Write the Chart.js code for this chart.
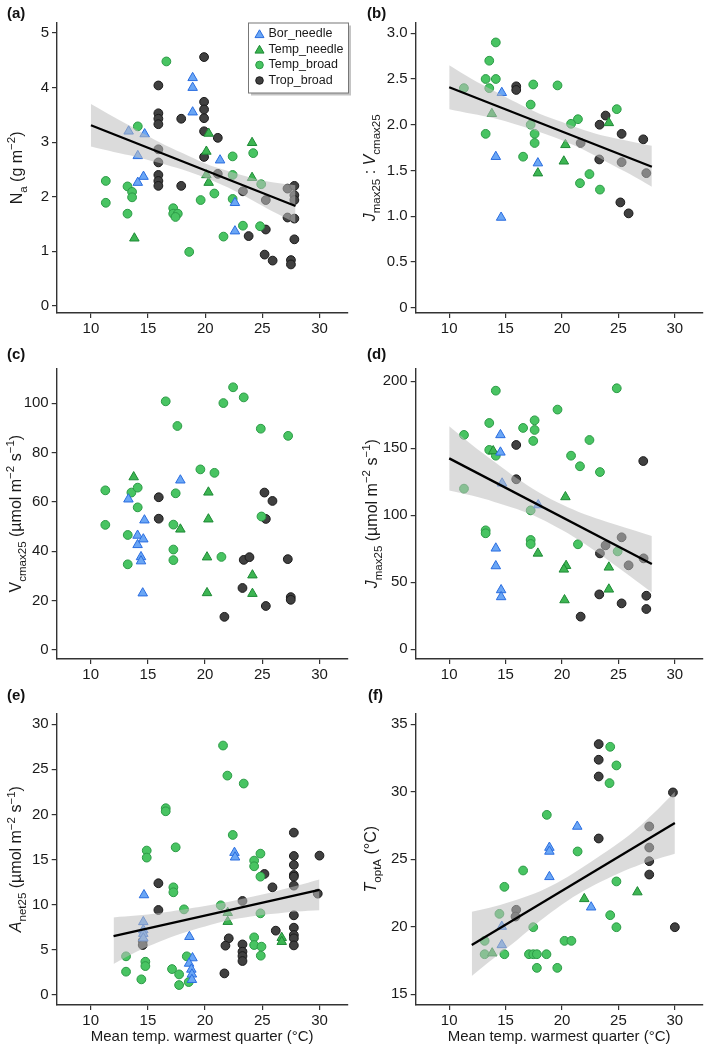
<!DOCTYPE html>
<html><head><meta charset="utf-8">
<script src="https://cdn.jsdelivr.net/npm/chart.js@4.4.0/dist/chart.umd.min.js"></script>
<style>
html,body{margin:0;padding:0;background:#fff;width:709px;height:1051px;overflow:hidden}
canvas{position:absolute}
</style></head><body>
<canvas id="pa" width="354" height="340" style="left:0px;top:0px"></canvas>
<canvas id="pb" width="355" height="340" style="left:354px;top:0px"></canvas>
<canvas id="pc" width="354" height="340" style="left:0px;top:340px"></canvas>
<canvas id="pd" width="355" height="340" style="left:354px;top:340px"></canvas>
<canvas id="pe" width="354" height="371" style="left:0px;top:680px"></canvas>
<canvas id="pf" width="355" height="371" style="left:354px;top:680px"></canvas>
<script>
// ---------------- DATA ----------------
const groupNames = ['Bor_needle', 'Temp_needle', 'Temp_broad', 'Trop_broad'];
const xTicks = [10, 15, 20, 25, 30];
const xTitle = 'Mean temp. warmest quarter (°C)';

// (a) Na
const na_bor = [[13.3,3.2],[14.7,3.15],[14.1,2.75],[14.6,2.37],[14.1,2.26],[18.9,4.18],[18.9,4.0],[18.9,3.55],[21.3,2.67],[22.6,1.89],[22.6,1.37]];
const na_tneedle = [[13.8,1.24],[20.3,3.16],[20.1,2.83],[20.1,2.4],[20.3,2.26],[24.1,2.99],[24.1,2.35]];
const na_tbroad = [[16.6,4.48],[14.1,3.29],[11.3,2.29],[11.3,1.89],[13.2,2.19],[13.6,2.09],[13.6,1.99],[13.2,1.69],[17.2,1.79],[17.2,1.69],[17.6,1.69],[17.4,1.63],[18.6,0.99],[19.6,1.94],[20.8,2.06],[21.6,1.27],[22.4,2.74],[22.4,2.4],[22.4,1.96],[23.3,1.47],[24.2,2.8],[24.8,1.46],[24.9,2.23]];
const na_trop = [[19.9,4.56],[15.9,4.04],[15.9,3.53],[15.9,3.43],[15.9,3.33],[15.9,2.87],[15.9,2.63],[15.9,2.4],[15.9,2.29],[15.9,2.2],[17.9,3.43],[17.9,2.2],[19.9,3.74],[19.9,3.6],[19.9,3.44],[19.9,3.2],[19.9,2.73],[21.1,3.08],[21.1,2.42],[23.3,2.1],[23.8,1.28],[25.3,1.94],[25.3,1.4],[25.2,0.94],[25.9,0.83],[27.2,2.15],[27.2,1.62],[27.8,2.2],[27.8,2.03],[27.8,1.94],[27.8,1.6],[27.8,1.22],[27.5,0.84],[27.5,0.76]];
const na_fit = [[10,3.31],[27.9,1.83]];
const na_bandX = [10,12,14,16,18,20,22,24,26,27.9];
const na_upper = [3.70,3.46,3.23,3.00,2.80,2.61,2.47,2.35,2.26,2.21];
const na_lower = [2.92,2.82,2.73,2.62,2.50,2.35,2.17,1.95,1.72,1.52];
const na_yTicks = [0,1,2,3,4,5];
const na_yLabels = ['0','1','2','3','4','5'];

// (b) Jmax25 : Vcmax25
const jv_bor = [[14.66,2.35],[14.13,1.65],[14.6,0.985],[17.86,1.58]];
const jv_tneedle = [[13.78,2.12],[17.86,1.47],[20.3,1.78],[20.16,1.6],[24.15,2.02]];
const jv_tbroad = [[11.3,2.40],[13.23,2.50],[13.55,2.70],[14.13,2.90],[14.13,2.50],[13.55,2.40],[13.23,1.90],[17.45,2.44],[17.22,2.22],[17.22,2.0],[17.57,1.90],[17.57,1.80],[16.55,1.65],[19.6,2.43],[21.41,2.06],[20.8,2.01],[21.59,1.36],[22.43,1.46],[23.36,1.29],[24.85,2.17]];
const jv_trop = [[15.94,2.42],[15.94,2.38],[21.65,1.80],[23.3,1.62],[23.33,2.0],[23.86,2.10],[25.28,1.90],[25.17,1.15],[25.9,1.03],[27.2,1.84],[25.28,1.59],[27.47,1.47]];
const jv_fit = [[10,2.41],[27.96,1.54]];
const jv_bandX = [10,12,14,16,18,20,22,24,26,27.96];
const jv_upper = [2.65,2.50,2.37,2.24,2.12,2.03,1.94,1.87,1.82,1.77];
const jv_lower = [2.17,2.12,2.07,2.00,1.92,1.83,1.72,1.59,1.46,1.32];
const jv_yTicks = [0,0.5,1,1.5,2,2.5,3];
const jv_yLabels = ['0','0.5','1.0','1.5','2.0','2.5','3.0'];

// (c) Vcmax25
const vc_bor = [[13.3,61.1],[14.1,46.4],[14.1,42.6],[14.6,44.9],[14.7,52.6],[14.4,37.7],[14.4,36.0],[14.55,23.0],[17.84,68.8]];
const vc_tneedle = [[13.76,70.1],[17.84,48.9],[20.29,63.9],[20.29,53.0],[20.17,37.6],[20.17,23.1],[24.14,30.3],[24.14,22.8]];
const vc_tbroad = [[11.28,64.7],[11.28,50.7],[13.24,46.6],[13.24,34.7],[13.56,63.8],[14.11,65.8],[14.11,57.8],[16.56,100.8],[17.58,90.8],[17.43,63.5],[17.23,50.8],[17.23,40.7],[17.23,36.4],[19.59,73.2],[20.82,71.8],[21.6,100.1],[22.45,106.5],[23.38,102.4],[21.43,37.7],[24.87,89.7],[24.93,54.1],[27.26,86.8]];
const vc_trop = [[15.95,61.9],[15.95,53.2],[21.69,13.4],[23.27,25.1],[23.38,36.5],[23.88,37.6],[25.19,63.8],[25.31,53.1],[25.31,17.8],[25.89,60.4],[27.23,36.8],[27.49,21.4],[27.49,20.3]];
const vc_yTicks = [0,20,40,60,80,100];
const vc_yLabels = ['0','20','40','60','80','100'];

// (d) Jmax25
const jm_bor = [[14.54,160],[14.54,147],[14.69,123.9],[14.13,75.4],[14.13,62.2],[14.6,44.3],[14.6,39.1],[17.89,107.7]];
const jm_tneedle = [[13.9,148],[17.86,71.6],[20.3,113.7],[20.36,62.4],[20.16,59.7],[20.22,36.8],[24.15,61.2],[24.15,44.8]];
const jm_tbroad = [[14.13,193],[11.31,160],[11.31,119.9],[13.55,168.9],[13.55,148.8],[14.13,144.5],[13.23,88.8],[13.23,86.6],[16.55,165.2],[17.57,170.9],[17.57,163.7],[17.45,155.5],[17.22,103.7],[17.22,81.6],[17.22,78.6],[19.6,178.9],[20.8,144.5],[21.59,136.6],[21.41,78.4],[22.43,156.2],[23.36,132.3],[24.85,194.8],[24.93,73.1]];
const jm_trop = [[15.94,152.5],[15.94,126.9],[21.65,24.4],[23.3,41.0],[23.36,71.6],[23.86,77.6],[25.28,83.6],[25.28,34.3],[25.9,62.7],[27.2,140.5],[27.23,67.9],[27.47,40.0],[27.47,30.1]];
const jm_fit = [[10,142.5],[27.96,63.7]];
const jm_bandX = [10,12,14,16,18,20,22,24,26,27.96];
const jm_upper = [166.5,152.7,140,127.7,116.9,108.1,100.8,95.1,89.8,84.5];
const jm_lower = [118.5,114.7,110,104.7,97.9,89.1,78.8,67.1,54.8,42.5];
const jm_yTicks = [0,50,100,150,200];
const jm_yLabels = ['0','50','100','150','200'];

// (e) Anet25
const an_bor = [[14.66,11.08],[14.6,8.1],[14.6,7.2],[14.6,6.8],[14.6,6.3],[18.63,6.46],[18.9,4.1],[18.6,3.5],[18.8,2.84],[18.85,2.3],[18.85,1.7],[22.57,15.77],[22.62,15.26]];
const an_tneedle = [[21.98,9.12],[21.98,8.13],[26.7,6.35],[26.7,5.91]];
const an_tbroad = [[21.57,27.63],[21.95,24.3],[23.38,23.42],[16.56,20.69],[16.56,20.35],[17.43,16.36],[14.9,16.0],[14.9,15.22],[17.23,11.93],[17.23,11.38],[18.16,9.49],[22.42,17.73],[24.29,14.89],[24.29,14.26],[24.84,15.66],[24.84,13.11],[21.37,9.94],[24.84,9.05],[24.29,6.39],[24.29,5.54],[24.93,5.36],[24.87,4.36],[13.09,4.29],[13.09,2.59],[14.43,1.74],[14.78,3.69],[14.78,3.21],[17.11,2.88],[17.73,2.29],[17.73,1.11],[18.4,4.29],[18.57,1.44]];
const an_trop = [[15.92,12.38],[15.92,9.42],[14.55,5.98],[14.55,5.54],[21.69,2.4],[22.07,6.28],[21.78,5.47],[23.27,10.42],[23.27,5.61],[23.27,4.80],[23.27,4.32],[23.27,3.77],[25.19,13.41],[25.89,11.93],[26.18,7.13],[27.76,17.99],[27.76,15.4],[27.76,14.41],[27.76,13.3],[27.76,13.11],[27.76,12.12],[27.76,8.83],[27.76,7.46],[27.76,6.65],[27.76,6.28],[27.76,5.5],[30.0,15.44],[29.85,11.23]];
const an_fit = [[12,6.54],[30,11.64]];
const an_bandX = [12,14,16,18,20,22,24,26,28,30];
const an_upper = [8.6,8.8,9.1,9.45,9.85,10.3,10.85,11.45,12.1,12.8];
const an_lower = [3.45,4.8,5.9,6.85,7.6,8.25,8.7,9.0,9.25,9.4];
const an_yTicks = [0,5,10,15,20,25,30];
const an_yLabels = ['0','5','10','15','20','25','30'];

// (f) ToptA
const to_bor = [[14.66,20.01],[14.66,18.65],[18.88,25.86],[18.88,25.57],[18.88,23.69],[21.35,27.42],[22.58,21.44]];
const to_tneedle = [[13.81,18.04],[21.97,22.06],[26.68,22.56]];
const to_tbroad = [[13.14,18.95],[13.14,17.96],[14.45,20.95],[14.89,22.95],[14.89,17.96],[16.55,24.16],[17.45,19.96],[17.07,17.96],[17.45,17.96],[17.77,17.96],[17.77,16.95],[18.62,17.96],[18.65,28.28],[19.58,16.95],[20.22,18.95],[20.83,18.95],[21.38,25.57],[24.27,33.32],[24.82,31.94],[24.21,30.63],[24.82,23.35],[24.27,20.85],[24.82,19.96]];
const to_trop = [[15.94,21.25],[15.88,20.75],[23.25,33.52],[23.25,32.36],[23.25,31.12],[23.25,26.53],[27.73,27.42],[27.73,25.86],[27.73,24.85],[27.73,23.86],[29.83,29.94],[30.0,19.96]];
const to_fit = [[12,18.65],[30,27.67]];
const to_bandX = [12,14,16,18,20,22,24,26,28,30];
const to_upper = [21.1,21.5,22.0,22.6,23.45,24.5,25.6,26.8,28.3,30.0];
const to_lower = [16.35,17.7,19.0,20.4,21.65,22.7,23.55,24.3,24.9,25.4];
const to_yTicks = [15,20,25,30,35];
const to_yLabels = ['15','20','25','30','35'];

// ---------------- STYLE ----------------
const FAM = '"Liberation Sans", Arial, Helvetica, sans-serif';
const STY = [
  {pointStyle:'triangle', radius:5.5, bg:'#6aa6f5', border:'#2a6de0'},
  {pointStyle:'triangle', radius:5.5, bg:'#3db552', border:'#1d8a35'},
  {pointStyle:'circle', radius:4.4, bg:'#48c462', border:'#2c9a46'},
  {pointStyle:'circle', radius:4.4, bg:'#404040', border:'#1a1a1a'}
];
const BAND = 'rgba(190,190,190,0.55)';

function toXY(arr){ return arr.map(p => ({x:p[0], y:p[1]})); }
function zipXY(xs, ys){ return xs.map((x,i) => ({x:x, y:ys[i]})); }

function drawRich(ctx, segs, cx, cy, size){
  ctx.save();
  ctx.translate(cx, cy); ctx.rotate(-Math.PI/2);
  const fontOf = s => (s.i ? 'italic ' : '') + ((s.sub||s.sup) ? size*0.72 : size) + 'px ' + FAM;
  let total = 0;
  segs.forEach(s => { ctx.font = fontOf(s); s.w = ctx.measureText(s.t).width; total += s.w; });
  let x = -total/2;
  ctx.textAlign = 'left'; ctx.textBaseline = 'alphabetic'; ctx.fillStyle = '#1a1a1a';
  const base = size*0.36;
  segs.forEach(s => {
    ctx.font = fontOf(s);
    const dy = s.sub ? size*0.3 : (s.sup ? -size*0.42 : 0);
    ctx.fillText(s.t, x, base + dy);
    x += s.w;
  });
  ctx.restore();
}

function drawMarker(ctx, st, x, y, r){
  ctx.save();
  ctx.fillStyle = st.bg; ctx.strokeStyle = st.border; ctx.lineWidth = 1;
  ctx.beginPath();
  if (st.pointStyle === 'triangle'){
    let a = 0;
    ctx.moveTo(x + Math.sin(a)*r, y - Math.cos(a)*r);
    a += 2*Math.PI/3; ctx.lineTo(x + Math.sin(a)*r, y - Math.cos(a)*r);
    a += 2*Math.PI/3; ctx.lineTo(x + Math.sin(a)*r, y - Math.cos(a)*r);
    ctx.closePath();
  } else {
    ctx.arc(x, y, r, 0, Math.PI*2);
  }
  ctx.fill(); ctx.stroke();
  ctx.restore();
}

const decor = {
  id: 'decor',
  afterDraw(chart, args, o){
    const ctx = chart.ctx, ca = chart.chartArea;
    ctx.save();
    ctx.font = 'bold 15px ' + FAM; ctx.fillStyle = '#111';
    ctx.textAlign = 'left'; ctx.textBaseline = 'middle';
    ctx.fillText(o.label, o.labelX, o.labelY);
    ctx.restore();
    drawRich(ctx, o.yTitle, o.titleX, (ca.top + ca.bottom)/2 + (o.titleDy||0), 16);
    if (o.legend){
      const bx = 248.5, by = 23, bw = 100, bh = 70;
      ctx.save();
      ctx.fillStyle = '#c4c4c4';
      ctx.fillRect(bx + 2.5, by + 2.5, bw, bh);
      ctx.fillStyle = '#fff'; ctx.fillRect(bx, by, bw, bh);
      ctx.strokeStyle = '#777'; ctx.lineWidth = 1; ctx.strokeRect(bx, by, bw, bh);
      const rows = [34, 49.5, 65, 80.5];
      ctx.font = '12.5px ' + FAM; ctx.fillStyle = '#1a1a1a'; ctx.textAlign = 'left'; ctx.textBaseline = 'middle';
      groupNames.forEach((n, i) => {
        const st = STY[i];
        drawMarker(ctx, st, 259.5, rows[i] + (st.pointStyle === 'triangle' ? 1 : 0), st.pointStyle === 'triangle' ? 5.2 : 3.8);
        ctx.fillStyle = '#1a1a1a';
        ctx.fillText(n, 268.5, rows[i]);
      });
      ctx.restore();
    }
  }
};

function makePanel(id, p){
  const canvas = document.getElementById(id);
  const W = canvas.width, H = canvas.height;
  const datasets = [];
  if (p.fit){
    datasets.push({type:'line', data: toXY(p.fit), borderColor:'#000', borderWidth:2.3, pointRadius:0, fill:false, tension:0});
    datasets.push({type:'line', data: zipXY(p.bandX, p.upper), borderWidth:0, borderColor:'rgba(0,0,0,0)', pointRadius:0, backgroundColor: BAND, fill:'+1', tension:0.35});
    datasets.push({type:'line', data: zipXY(p.bandX, p.lower), borderWidth:0, borderColor:'rgba(0,0,0,0)', pointRadius:0, fill:false, tension:0.35});
  }
  p.groups.forEach((g, i) => {
    const st = STY[i];
    datasets.push({type:'scatter', label: groupNames[i], data: toXY(g), pointStyle: st.pointStyle, pointRadius: st.radius,
      backgroundColor: st.bg, borderColor: st.border, borderWidth: 1});
  });
  return new Chart(canvas, {
    type: 'scatter',
    data: { datasets },
    options: {
      responsive:false, animation:false, devicePixelRatio:1,
      layout: { padding: { left:0, top:p.T, right: W - p.R, bottom:0 } },
      plugins: { legend:{display:false}, tooltip:{enabled:false}, decor: p.decor },
      scales: {
        x: {
          type:'linear', min:7.03, max:32.45, bounds:'data',
          afterBuildTicks: s => { s.ticks = xTicks.map(v => ({value:v})); },
          afterFit: s => { s.height = H - p.B; },
          ticks: { font:{size:15, family:FAM}, color:'#1a1a1a', padding:2, maxRotation:0, autoSkip:false, callback: (v) => String(v) },
          grid: { drawOnChartArea:false, drawTicks:true, tickLength:5, color:'#333', lineWidth:1.2 },
          border: { display:true, color:'#333', width:1.4 },
          title: p.xTitle ? { display:true, text:xTitle, font:{size:15, family:FAM}, color:'#1a1a1a', padding:{top:0, bottom:5} } : { display:false }
        },
        y: {
          type:'linear', min:p.ymin, max:p.ymax, bounds:'data',
          afterBuildTicks: s => { s.ticks = p.yTicks.map(v => ({value:v})); },
          afterFit: s => { s.width = p.L; },
          ticks: { font:{size:15, family:FAM}, color:'#1a1a1a', padding:3, autoSkip:false, callback: (v, i) => p.yLabels[i] },
          grid: { drawOnChartArea:false, drawTicks:true, tickLength:5, color:'#333', lineWidth:1.2 },
          border: { display:true, color:'#333', width:1.4 }
        }
      }
    },
    plugins: [decor]
  });
}

const SUBPM = [{t:' (µmol m'},{t:'−2',sup:1},{t:' s'},{t:'−1',sup:1},{t:')'}];

makePanel('pa', {L:57, R:348, T:22.7, B:313, ymin:-0.13, ymax:5.19, yTicks:na_yTicks, yLabels:na_yLabels,
  groups:[na_bor, na_tneedle, na_tbroad, na_trop], fit:na_fit, bandX:na_bandX, upper:na_upper, lower:na_lower,
  decor:{label:'(a)', labelX:7, labelY:13.5, titleX:16, legend:true,
    yTitle:[{t:'N'},{t:'a',sub:1},{t:' (g m'},{t:'−2',sup:1},{t:')'}]}});
makePanel('pb', {L:61.7, R:352.7, T:22.7, B:313, ymin:-0.06, ymax:3.116, yTicks:jv_yTicks, yLabels:jv_yLabels,
  groups:[jv_bor, jv_tneedle, jv_tbroad, jv_trop], fit:jv_fit, bandX:jv_bandX, upper:jv_upper, lower:jv_lower,
  decor:{label:'(b)', labelX:13, labelY:13.5, titleX:15,
    yTitle:[{t:'J',i:1},{t:'max25',sub:1},{t:' : '},{t:'V',i:1},{t:'cmax25',sub:1}]}});
makePanel('pc', {L:56.7, R:348, T:28.3, B:319, ymin:-3.7, ymax:114.2, yTicks:vc_yTicks, yLabels:vc_yLabels,
  groups:[vc_bor, vc_tneedle, vc_tbroad, vc_trop],
  decor:{label:'(c)', labelX:7, labelY:15, titleX:15,
    yTitle:[{t:'V'},{t:'cmax25',sub:1}].concat(SUBPM)}});
makePanel('pd', {L:61.7, R:352.7, T:28.3, B:319, ymin:-7.2, ymax:209.7, yTicks:jm_yTicks, yLabels:jm_yLabels,
  groups:[jm_bor, jm_tneedle, jm_tbroad, jm_trop], fit:jm_fit, bandX:jm_bandX, upper:jm_upper, lower:jm_lower,
  decor:{label:'(d)', labelX:13, labelY:15, titleX:17,
    yTitle:[{t:'J',i:1},{t:'max25',sub:1}].concat(SUBPM)}});
makePanel('pe', {L:56.7, R:348, T:33.3, B:325, ymin:-1.1, ymax:31.2, yTicks:an_yTicks, yLabels:an_yLabels, xTitle:true,
  groups:[an_bor, an_tneedle, an_tbroad, an_trop], fit:an_fit, bandX:an_bandX, upper:an_upper, lower:an_lower,
  decor:{label:'(e)', labelX:7, labelY:15.5, titleX:15.5,
    yTitle:[{t:'A',i:1},{t:'net25',sub:1}].concat(SUBPM)}});
makePanel('pf', {L:61.7, R:352.7, T:33.3, B:325, ymin:14.2, ymax:35.8, yTicks:to_yTicks, yLabels:to_yLabels, xTitle:true,
  groups:[to_bor, to_tneedle, to_tbroad, to_trop], fit:to_fit, bandX:to_bandX, upper:to_upper, lower:to_lower,
  decor:{label:'(f)', labelX:14, labelY:15.5, titleX:16,
    yTitle:[{t:'T',i:1},{t:'optA',sub:1},{t:' (°C)'}]}});
</script>
</body></html>
